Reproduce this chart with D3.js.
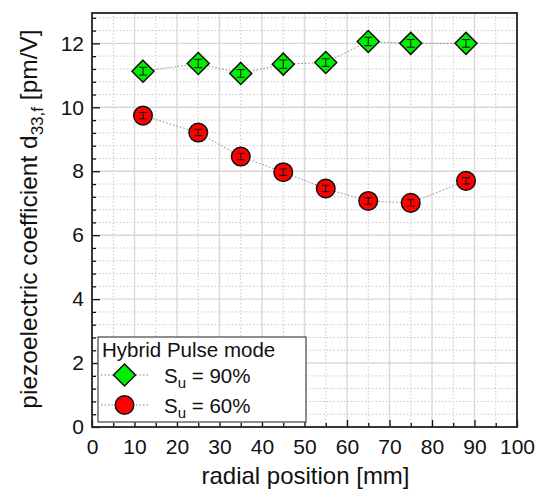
<!DOCTYPE html>
<html>
<head>
<meta charset="utf-8">
<script src="https://cdn.jsdelivr.net/npm/d3@7"></script>
<style>
  html, body { margin: 0; padding: 0; background: #fff; }
  svg { display: block; font-family: "Liberation Sans", Arial, sans-serif; }
</style>
</head>
<body>
<svg id="chart" width="535" height="491"></svg>
<script>
// radial positions [mm]
const positions = [12, 25, 35, 45, 55, 65, 75, 88];
// S_u = 90 %
const su90 = [11.13, 11.37, 11.06, 11.35, 11.4, 12.06, 12.0, 12.0];
const su90Err = [0.12, 0.13, 0.12, 0.13, 0.12, 0.13, 0.12, 0.12];
// S_u = 60 %
const su60 = [9.74, 9.21, 8.46, 7.97, 7.46, 7.07, 7.01, 7.7];
const su60Err = [0.1, 0.1, 0.1, 0.1, 0.1, 0.1, 0.1, 0.1];
const xTicks = [0, 10, 20, 30, 40, 50, 60, 70, 80, 90, 100];
const yTicks = [0, 2, 4, 6, 8, 10, 12];

const svg = d3.select('#chart');
const margin = { left: 92, top: 13, right: 18, bottom: 64 };
const W = 535, H = 491;
const x = d3.scaleLinear().domain([0, 100]).range([margin.left, W - margin.right]);
const y = d3.scaleLinear().domain([0, 12.95]).range([H - margin.bottom, margin.top]);

const x0 = x(0), x1 = x(100), y0 = y(0), y1 = y.range()[1];

// grid
const grid = svg.append('g');
const xMinor = d3.range(5, 100, 10);
const yMinor = d3.range(0.4, 12.95, 0.4).filter(v => Math.abs(v / 2 - Math.round(v / 2)) > 0.01);
grid.selectAll('.gxm').data(xMinor).join('line')
  .attr('x1', d => x(d)).attr('x2', d => x(d)).attr('y1', y0).attr('y2', y1)
  .attr('stroke', '#c8c8c8').attr('stroke-width', 1).attr('stroke-dasharray', '1.5,2');
grid.selectAll('.gym').data(yMinor).join('line')
  .attr('y1', d => y(d)).attr('y2', d => y(d)).attr('x1', x0).attr('x2', x1)
  .attr('stroke', '#c8c8c8').attr('stroke-width', 1).attr('stroke-dasharray', '1.5,2');
grid.selectAll('.gx').data(xTicks.slice(1, -1)).join('line')
  .attr('x1', d => x(d)).attr('x2', d => x(d)).attr('y1', y0).attr('y2', y1)
  .attr('stroke', '#d8d8d8').attr('stroke-width', 1.4);
grid.selectAll('.gy').data(yTicks.slice(1)).join('line')
  .attr('y1', d => y(d)).attr('y2', d => y(d)).attr('x1', x0).attr('x2', x1)
  .attr('stroke', '#d8d8d8').attr('stroke-width', 1.4);

// axes (ticks pointing inward)
svg.append('g').attr('transform', `translate(0,${y0})`)
  .call(d3.axisBottom(x).tickValues(xTicks).tickSize(-7).tickPadding(12).tickSizeOuter(0));
svg.append('g').attr('transform', `translate(0,${y0})`)
  .call(d3.axisBottom(x).tickValues(xMinor).tickSize(-4).tickFormat('').tickSizeOuter(0));
svg.append('g').attr('transform', `translate(${x0},0)`)
  .call(d3.axisLeft(y).tickValues(yTicks).tickSize(-8).tickPadding(8).tickSizeOuter(0));
svg.append('g').attr('transform', `translate(${x0},0)`)
  .call(d3.axisLeft(y).tickValues(yMinor).tickSize(-4).tickFormat('').tickSizeOuter(0));
svg.selectAll('.tick line').attr('stroke', '#111').attr('stroke-width', 1.3);
svg.selectAll('.tick text').attr('font-size', 21).attr('fill', '#111')
  .attr('font-family', '"Liberation Sans", Arial, sans-serif');
svg.selectAll('.domain').remove();

// frame
svg.append('rect').attr('x', x0).attr('y', y1).attr('width', x1 - x0).attr('height', y0 - y1)
  .attr('fill', 'none').attr('stroke', '#222').attr('stroke-width', 1.8);

// series
const line = d3.line().x(d => x(d[0])).y(d => y(d[1]));
const series = [
  { vals: su90, err: su90Err, color: '#00ee00', shape: 'diamond' },
  { vals: su60, err: su60Err, color: '#ff0000', shape: 'circle' }
];
function drawMarker(g, shape, color) {
  if (shape === 'diamond') {
    g.append('path').attr('d', 'M0,-11L11,0L0,11L-11,0Z')
      .attr('fill', color).attr('stroke', '#111').attr('stroke-width', 1.5);
  } else {
    g.append('circle').attr('r', 9.3)
      .attr('fill', color).attr('stroke', '#111').attr('stroke-width', 1.5);
  }
}
series.forEach(s => {
  const pts = positions.map((p, i) => [p, s.vals[i], s.err[i]]);
  svg.append('path').datum(pts).attr('d', line)
    .attr('fill', 'none').attr('stroke', '#888').attr('stroke-width', 1).attr('stroke-dasharray', '1.5,2');
  pts.forEach(d => {
    const g = svg.append('g').attr('transform', `translate(${x(d[0])},${y(d[1])})`);
    drawMarker(g, s.shape, s.color);
    const top = y(d[1] + d[2]) - y(d[1]), bot = y(d[1] - d[2]) - y(d[1]);
    g.append('line').attr('x1', 0).attr('x2', 0).attr('y1', top).attr('y2', bot)
      .attr('stroke', '#111').attr('stroke-width', 1);
    [top, bot].forEach(v => g.append('line').attr('x1', -4).attr('x2', 4).attr('y1', v).attr('y2', v)
      .attr('stroke', '#111').attr('stroke-width', 1));
  });
});

// legend
const leg = svg.append('g');
leg.append('rect').attr('x', 98).attr('y', 337).attr('width', 208).attr('height', 85)
  .attr('fill', '#fff').attr('stroke', '#444').attr('stroke-width', 1.2);
leg.append('text').attr('x', 102).attr('y', 357).attr('font-size', 20.5).attr('fill', '#111')
  .text('Hybrid Pulse mode');
const legItems = [{ s: series[0], label: '90%', cy: 375 }, { s: series[1], label: '60%', cy: 405 }];
legItems.forEach(it => {
  leg.append('line').attr('x1', 101).attr('x2', 148).attr('y1', it.cy).attr('y2', it.cy)
    .attr('stroke', '#888').attr('stroke-width', 1).attr('stroke-dasharray', '1.5,2');
  const g = leg.append('g').attr('transform', `translate(124.5,${it.cy})`);
  drawMarker(g, it.s.shape, it.s.color);
  const t = leg.append('text').attr('x', 164).attr('y', it.cy + 8).attr('font-size', 20.5).attr('fill', '#111');
  t.append('tspan').text('S');
  t.append('tspan').attr('font-size', 15).attr('dy', 5).text('u');
  t.append('tspan').attr('dy', -5).text(' = ' + it.label);
});

// axis titles
svg.append('text').attr('x', 305.5).attr('y', 484).attr('text-anchor', 'middle')
  .attr('font-size', 24).attr('fill', '#111').text('radial position [mm]');
const yl = svg.append('text').attr('transform', `translate(37,219) rotate(-90)`)
  .attr('text-anchor', 'middle').attr('font-size', 24.5).attr('fill', '#111');
yl.append('tspan').text('piezoelectric coefficient d');
yl.append('tspan').attr('font-size', 17).attr('dy', 6).text('33,f');
yl.append('tspan').attr('dy', -6).text(' [pm/V]');
</script>
</body>
</html>
